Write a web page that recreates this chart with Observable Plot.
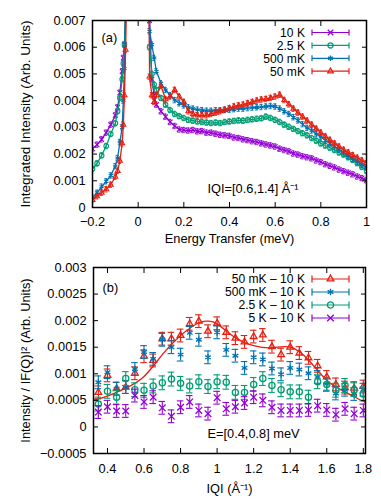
<!DOCTYPE html>
<html><head><meta charset="utf-8">
<script src="https://cdn.jsdelivr.net/npm/d3@7"></script>
<script src="https://cdn.jsdelivr.net/npm/@observablehq/plot@0.6"></script>
<style>
html,body{margin:0;padding:0;background:#fff;}
#chart{width:381px;}
#chart svg{display:block;}
</style></head><body><div id="chart"></div>
<script>
// ---------- Panel (a) data ----------
const energy = [-0.20,-0.18,-0.16,-0.14,-0.12,-0.10,-0.09,-0.08,-0.07,-0.065,-0.06,-0.055,-0.05,-0.04,
  0.00,
  0.04,0.05,0.06,0.07,
  0.08,0.10,0.12,0.14,0.16,0.18,0.20,0.22,0.24,0.26,0.28,0.30,0.32,0.34,0.36,0.38,0.40,
  0.42,0.44,0.46,0.48,0.50,0.52,0.54,0.56,0.58,0.60,0.62,0.64,0.66,0.68,0.70,0.72,0.74,0.76,0.78,0.80,
  0.82,0.84,0.86,0.88,0.90,0.92,0.94,0.96,0.98,1.00];
const int10K = [0.0022,0.00235,0.00255,0.0028,0.0031,0.00345,0.00375,0.0043,0.0051,0.0056,0.0061,0.0076,0.0100,0.0160,
  0.060,
  0.0160,0.0070,0.0048,0.0042,
  0.00385,0.0036,0.0034,0.0032,0.00305,0.00292,0.0029,0.00288,0.0029,0.00285,0.00286,0.0028,0.0028,0.00276,0.00272,0.0027,0.00268,
  0.00262,0.0026,0.00255,0.00252,0.00248,0.00245,0.0024,0.00236,0.00232,0.00228,0.0022,0.00215,0.0021,0.00202,0.00198,0.00192,0.00188,0.00184,0.00176,0.0017,
  0.00162,0.00156,0.0015,0.00142,0.00136,0.0013,0.00124,0.00116,0.0011,0.00102];
const int2p5K = [0.00145,0.00165,0.00195,0.0023,0.00275,0.00315,0.0036,0.0041,0.0048,0.0054,0.0061,0.0076,0.0100,0.0160,
  0.060,
  0.0160,0.0060,0.0050,0.0046,
  0.0044,0.0041,0.00385,0.00365,0.0035,0.00342,0.00335,0.00328,0.00325,0.00322,0.0032,0.00318,0.00316,0.00318,0.00316,0.0032,0.00322,
  0.00324,0.00326,0.00325,0.00328,0.0033,0.00332,0.00334,0.0034,0.00335,0.00328,0.0032,0.0031,0.00302,0.00294,0.00286,0.00278,0.0027,0.0026,0.0025,0.0024,
  0.00232,0.00224,0.00215,0.00206,0.00198,0.00188,0.00178,0.00166,0.00152,0.00138];
const int500mK = [0.00038,0.00055,0.00078,0.00098,0.0012,0.00155,0.00185,0.00245,0.0030,0.0040,0.0052,0.0072,0.0095,0.0160,
  0.060,
  0.0160,0.0066,0.0061,0.0056,
  0.0051,0.00465,0.0044,0.0042,0.00402,0.0039,0.00382,0.00375,0.0037,0.00366,0.00364,0.00362,0.00362,0.00364,0.00364,0.00366,0.00366,
  0.00368,0.0037,0.0037,0.00372,0.00374,0.00375,0.00376,0.00378,0.0038,0.00378,0.0037,0.0036,0.0035,0.00338,0.00326,0.00312,0.00298,0.00288,0.00275,0.00264,
  0.00252,0.0024,0.00228,0.00216,0.00206,0.00194,0.00182,0.00172,0.0016,0.0015];
const int50mK = [0.00028,0.00042,0.00055,0.00068,0.00085,0.00115,0.00137,0.00175,0.0024,0.0031,0.0042,0.0059,0.0082,0.0160,
  0.060,
  0.0160,0.0049,0.0042,0.00395,
  0.0042,0.00455,0.00405,0.00415,0.0044,0.00415,0.00395,0.0036,0.0035,0.00345,0.00345,0.00345,0.0035,0.00355,0.0036,0.00365,0.00372,
  0.00378,0.00382,0.00385,0.0039,0.00395,0.0040,0.00404,0.00406,0.0041,0.00415,0.00422,0.00402,0.00386,0.0037,0.00355,0.0034,0.00325,0.0031,0.00295,0.0028,
  0.00266,0.00253,0.0024,0.00228,0.00216,0.00206,0.00196,0.00186,0.00176,0.00166];
const errA = 0.0001;

const xTicksA = [-0.2,0,0.2,0.4,0.6,0.8,1];
const xTickLabelsA = ["\u22120.2","0","0.2","0.4","0.6","0.8","1"];
const yTicksA = [0,0.001,0.002,0.003,0.004,0.005,0.006,0.007];
const yTickLabelsA = ["0","0.001","0.002","0.003","0.004","0.005","0.006","0.007"];

// ---------- Panel (b) data ----------
const q = [0.35,0.40,0.45,0.50,0.55,0.60,0.65,0.70,0.75,0.80,0.85,0.90,0.95,1.00,1.05,1.10,1.15,1.20,1.25,1.30,1.35,1.40,1.45,1.50,1.55,1.60,1.65,1.70,1.75,1.80];
const d50mK = [0.00065,0.00097,0.00072,0.00075,0.00101,0.00133,0.00125,0.00166,0.00166,0.00172,0.00194,0.00199,0.0018,0.00195,0.00178,0.00167,0.0016,0.0017,0.00173,0.00151,0.00136,0.0015,0.00139,0.0013,0.00115,0.00094,0.0008,0.00074,0.00073,0.00076];
const d500mK = [0.00084,0.00103,0.00072,0.00075,0.00109,0.00141,0.00128,0.00164,0.0015,0.00136,0.00177,0.00164,0.00131,0.00178,0.00145,0.00134,0.00111,0.00131,0.00127,0.0011,0.00099,0.00111,0.00108,0.00101,0.00094,0.00081,0.00063,0.0007,0.00062,0.0007];
const d2p5K = [0.00043,0.00067,0.00056,0.00091,0.0007,0.00069,0.00077,0.00083,0.0009,0.00082,0.00077,0.00085,0.00076,0.00085,0.00084,0.00065,0.00065,0.0008,0.00091,0.00078,0.0007,0.00066,0.00066,0.00056,0.00085,0.0008,0.00069,0.00078,0.0007,0.00062];
const d5K = [0.00028,0.00038,0.0003,0.0003,0.00059,0.00047,0.00056,0.00036,0.0002,0.00037,0.00047,0.00031,0.00025,0.00055,0.00034,0.00038,0.00045,0.00056,0.0005,0.00037,0.00031,0.00031,0.00031,0.00032,0.0004,0.00032,0.00023,0.00034,0.00025,0.00031];
const errB = [0.00012,0.00012,0.00013,0.00012];
const fitQ = [0.32,0.40,0.50,0.60,0.70,0.80,0.90,0.95,1.00,1.10,1.20,1.30,1.40,1.50,1.60,1.70,1.80,1.82];
const fitV = [0.00050,0.00058,0.00073,0.00095,0.00136,0.00172,0.00196,0.00199,0.00194,0.00168,0.00153,0.00149,0.00150,0.00126,0.00088,0.00066,0.00048,0.00046];

const xTicksB = [0.4,0.6,0.8,1,1.2,1.4,1.6,1.8];
const xTickLabelsB = ["0.4","0.6","0.8","1","1.2","1.4","1.6","1.8"];
const yTicksB = [-0.0005,0,0.0005,0.001,0.0015,0.002,0.0025,0.003];
const yTickLabelsB = ["\u22120.0005","0","0.0005","0.001","0.0015","0.002","0.0025","0.003"];

// ---------- styling ----------
const FONT = '"Liberation Sans", Arial, Helvetica, sans-serif';
const FS = 12.8;
const LFS = 12.1;
const C = {purple:"#9400d3", green:"#009e73", blue:"#0072b2", red:"#e51e10"};
const SYM = {times: d3.symbolTimes, circle: d3.symbolCircle, asterisk: d3.symbolAsterisk, triangle: d3.symbolTriangle};
const SYMSCALE = {times:1, circle:1, asterisk:1, triangle:0.8};

const seriesA = [
  {label:"10 K", values:int10K, color:C.purple, symbol:"times"},
  {label:"2.5 K", values:int2p5K, color:C.green, symbol:"circle"},
  {label:"500 mK", values:int500mK, color:C.blue, symbol:"asterisk"},
  {label:"50 mK", values:int50mK, color:C.red, symbol:"triangle"}
];
const seriesB = [
  {label:"50 mK \u2013 10 K", values:d50mK, err:errB[0], color:C.red, symbol:"triangle"},
  {label:"500 mK \u2013 10 K", values:d500mK, err:errB[1], color:C.blue, symbol:"asterisk"},
  {label:"2.5 K \u2013 10 K", values:d2p5K, err:errB[2], color:C.green, symbol:"circle"},
  {label:"5 K \u2013 10 K", values:d5K, err:errB[3], color:C.purple, symbol:"times"}
];

function errorMarks(rows, color, cap, sw) {
  return [
    Plot.ruleX(rows, {x:"x", y1:"lo", y2:"hi", stroke:color, strokeWidth:sw, clip:true}),
    Plot.ruleY(rows, {y:"lo", x1:d=>d.x-cap, x2:d=>d.x+cap, stroke:color, strokeWidth:sw, clip:true}),
    Plot.ruleY(rows, {y:"hi", x1:d=>d.x-cap, x2:d=>d.x+cap, stroke:color, strokeWidth:sw, clip:true})
  ];
}
function axes(xt, xl, yt, yl, padX, padY) {
  return [
    Plot.axisX(xt, {anchor:"bottom", tickSize:-5, tickPadding:padX, tickFormat:d=>xl[xt.indexOf(d)], label:null, fontSize:FS}),
    Plot.axisX(xt, {anchor:"top", tickSize:-5, tickFormat:()=>"", label:null}),
    Plot.axisY(yt, {anchor:"left", tickSize:-5, tickPadding:padY, tickFormat:d=>yl[yt.indexOf(d)], label:null, fontSize:FS}),
    Plot.axisY(yt, {anchor:"right", tickSize:-5, tickFormat:()=>"", label:null})
  ];
}
function legend(svg, items, xText, y0, dy, r, capH) {
  const g = d3.select(svg).append("g").attr("font-family", FONT).attr("font-size", LFS);
  items.forEach((it, i) => {
    const y = y0 + i*dy, x1 = xText+7, x2 = xText+44, xm = (x1+x2)/2;
    const rr = r*SYMSCALE[it.symbol];
    g.append("text").attr("x", xText).attr("y", y).attr("dy","0.36em").attr("text-anchor","end").attr("fill","black").text(it.label);
    g.append("line").attr("x1",x1).attr("x2",x2).attr("y1",y).attr("y2",y).attr("stroke",it.color).attr("stroke-width",1.2);
    [x1,x2].forEach(xx => g.append("line").attr("x1",xx).attr("x2",xx).attr("y1",y-capH).attr("y2",y+capH).attr("stroke",it.color).attr("stroke-width",1.2));
    g.append("path").attr("d", d3.symbol(SYM[it.symbol], Math.PI*rr*rr)()).attr("transform",`translate(${xm},${y})`)
      .attr("fill","none").attr("stroke",it.color).attr("stroke-width",1.3);
  });
}

// ---------- Panel (a) ----------
const marksA = [];
seriesA.forEach(s => {
  const rows = energy.map((x,i) => ({x, y:s.values[i], lo:s.values[i]-errA, hi:s.values[i]+errA}));
  marksA.push(Plot.line(rows, {x:"x", y:"y", stroke:s.color, strokeWidth:1.3, clip:true}));
  marksA.push(...errorMarks(rows, s.color, 0.007, 0.9));
  marksA.push(Plot.dot(rows, {x:"x", y:"y", symbol:s.symbol, r:2.3*SYMSCALE[s.symbol], stroke:s.color, fill:"none", strokeWidth:1.1, clip:true}));
});
const plotA = Plot.plot({
  width:381, height:250,
  marginLeft:92, marginRight:15, marginTop:20, marginBottom:43,
  x:{domain:[-0.2,1]}, y:{domain:[0,0.007]},
  style:{fontFamily:FONT, fontSize:FS+"px", background:"white", color:"black"},
  marks:[
    ...marksA,
    ...axes(xTicksA, xTickLabelsA, yTicksA, yTickLabelsA, 14, 12),
    Plot.frame({stroke:"black", strokeWidth:1.5}),
    Plot.text(["(a)"], {frameAnchor:"top-left", dx:9, dy:17, textAnchor:"start", lineAnchor:"middle", fontSize:FS}),
    Plot.text(["IQI=[0.6,1.4] \u00c5\u207b\u00b9"], {frameAnchor:"bottom-left", dx:115, dy:-19, textAnchor:"start", lineAnchor:"middle", fontSize:FS}),
    Plot.text(["Energy Transfer (meV)"], {frameAnchor:"bottom", dy:31, lineAnchor:"middle", fontSize:FS}),
    Plot.text(["Integrated Intensity (Arb. Units)"], {frameAnchor:"left", dx:-67, rotate:-90, textAnchor:"middle", lineAnchor:"middle", fontSize:FS+0.7})
  ]
});
legend(plotA, seriesA, 305, 32.5, 12.9, 2.6, 3);

// ---------- Panel (b) ----------
const marksB = [];
seriesB.forEach((s, k) => {
  const rows = q.map((x,i) => ({x, y:s.values[i], lo:s.values[i]-s.err, hi:s.values[i]+s.err}));
  if (k === 0) marksB.push(Plot.line(fitQ.map((x,i)=>({x, y:fitV[i]})), {x:"x", y:"y", stroke:s.color, strokeWidth:1.3, curve:"natural", clip:true}));
  marksB.push(...errorMarks(rows, s.color, 0.018, 1.1));
  marksB.push(Plot.dot(rows, {x:"x", y:"y", symbol:s.symbol, r:3.1*SYMSCALE[s.symbol], stroke:s.color, fill:"none", strokeWidth:1.3, clip:true}));
});
const plotB = Plot.plot({
  width:381, height:250,
  marginLeft:93, marginRight:16, marginTop:17, marginBottom:47,
  x:{domain:[0.3235,1.812]}, y:{domain:[-0.0005,0.003]},
  style:{fontFamily:FONT, fontSize:FS+"px", background:"white", color:"black"},
  marks:[
    ...marksB,
    ...axes(xTicksB, xTickLabelsB, yTicksB, yTickLabelsB, 15, 12),
    Plot.frame({stroke:"black", strokeWidth:1.5}),
    Plot.text(["(b)"], {frameAnchor:"top-left", dx:9, dy:20, textAnchor:"start", lineAnchor:"middle", fontSize:FS}),
    Plot.text(["E=[0.4,0.8] meV"], {frameAnchor:"bottom-left", dx:114, dy:-20, textAnchor:"start", lineAnchor:"middle", fontSize:FS}),
    Plot.text(["IQI (\u00c5\u207b\u00b9)"], {frameAnchor:"bottom", dy:35, lineAnchor:"middle", fontSize:FS}),
    Plot.text(["Intensity / IF(Q)I\u00b2 (Arb. Units)"], {frameAnchor:"left", dx:-68, rotate:-90, textAnchor:"middle", lineAnchor:"middle", fontSize:FS})
  ]
});
legend(plotB, seriesB, 305, 29, 13, 3.1, 3.5);

document.getElementById("chart").append(plotA, plotB);
</script>
</body></html>
